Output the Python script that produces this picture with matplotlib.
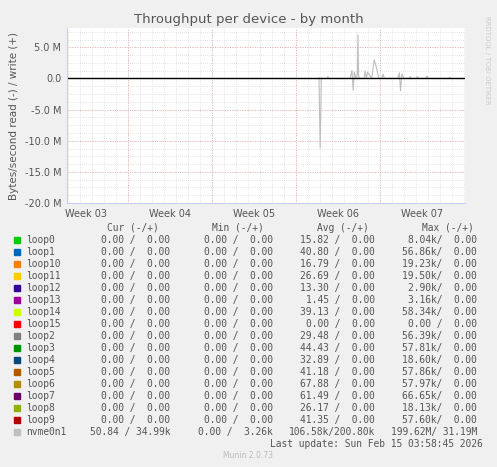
import matplotlib
matplotlib.use("Agg")
import matplotlib.pyplot as plt
import numpy as np

# time axis in days from left edge of the graph
week_lines = [5.08, 12.08, 19.08, 26.08]
week_labels = ["Week 03", "Week 04", "Week 05", "Week 06", "Week 07"]
t_end = 33.17

# nvme0n1 traffic (write +, read -), in M bytes/s
spike_t = [20.95, 21.0, 21.1, 21.2, 21.3, 21.7, 21.75, 21.8, 23.6, 23.75, 23.85, 23.95, 24.1,
           24.2, 24.25, 24.3, 24.45, 24.75, 24.85, 24.95, 25.05, 25.4, 25.6, 25.75, 26.0,
           26.25, 26.35, 26.45, 27.55, 27.7, 27.8, 27.9, 28.1, 28.5, 28.6, 28.7, 29.1, 29.2,
           29.3, 29.9, 30.0, 30.1, 31.8, 31.9, 32.0]
spike_v = [0.0, 0.1, -11.2, 0.1, 0.0, 0.0, 0.3, 0.0, 0.0, 1.3, -1.9, 1.0, 0.0,
           0.5, 7.0, 0.3, 0.0, 0.0, 1.2, 0.0, 1.0, 0.0, 3.0, 2.0, 0.0,
           0.0, 0.7, 0.0, 0.0, 0.9, -2.0, 0.7, 0.0, 0.0, 0.3, 0.0, 0.0, 0.3,
           0.0, 0.0, 0.4, 0.0, 0.0, 0.2, 0.0]

devices = ["loop0", "loop1", "loop10", "loop11", "loop12", "loop13", "loop14", "loop15",
           "loop2", "loop3", "loop4", "loop5", "loop6", "loop7", "loop8", "loop9", "nvme0n1"]
colors = ["#00cc00", "#0066b3", "#ff8000", "#ffcc00", "#330099", "#990099", "#ccff00", "#ff0000",
          "#808080", "#008f00", "#00487d", "#b35a00", "#b38f00", "#6b006b", "#8fb300", "#b30000",
          "#bebebe"]
cur = ["0.00 /  0.00"] * 16 + ["50.84 / 34.99k"]
mins = ["0.00 /  0.00"] * 16 + ["0.00 /  3.26k"]
avgs = ["15.82 /  0.00", "40.80 /  0.00", "16.79 /  0.00", "26.69 /  0.00", "13.30 /  0.00",
        "1.45 /  0.00", "39.13 /  0.00", "0.00 /  0.00", "29.48 /  0.00", "44.43 /  0.00",
        "32.89 /  0.00", "41.18 /  0.00", "67.88 /  0.00", "61.49 /  0.00", "26.17 /  0.00",
        "41.35 /  0.00", "106.58k/200.80k"]
maxs = ["8.04k/  0.00", "56.86k/  0.00", "19.23k/  0.00", "19.50k/  0.00", "2.90k/  0.00",
        "3.16k/  0.00", "58.34k/  0.00", "0.00 /  0.00", "56.39k/  0.00", "57.81k/  0.00",
        "18.60k/  0.00", "57.86k/  0.00", "57.97k/  0.00", "66.65k/  0.00", "18.13k/  0.00",
        "57.60k/  0.00", "199.62M/ 31.19M"]

W, H = 497, 467
fig = plt.figure(figsize=(W / 100, H / 100), dpi=100, facecolor="#f0f0f0")
ax = fig.add_axes([67 / W, (H - 203) / H, 398 / W, 175 / H], facecolor="white")

ax.plot(spike_t, spike_v, color="#bebebe", lw=0.8)
ax.axhline(0, color="black", lw=1)
ax.set_xlim(0, t_end)
ax.set_ylim(-20, 8.1)

for d in np.arange(0.08, t_end, 1.0):
    ax.axvline(d, color="#cccccc", lw=0.5, ls=(0, (1, 2)), zorder=0)
for y in np.arange(-20, 8.1, 1.25):
    ax.axhline(y, color="#cccccc", lw=0.5, ls=(0, (1, 2)), zorder=0)
for d in week_lines:
    ax.axvline(d, color="#e8a0a0", lw=0.6, ls=(0, (1, 2)), zorder=0)
for y in [-20, -15, -10, -5, 5]:
    ax.axhline(y, color="#e8a0a0", lw=0.6, ls=(0, (1, 2)), zorder=0)

ax.set_yticks([-20, -15, -10, -5, 0, 5])
ax.set_yticklabels(["-20.0 M", "-15.0 M", "-10.0 M", "-5.0 M", "0.0", "5.0 M"])
centers = [week_lines[0] - 3.5] + [w + 3.5 for w in week_lines]
ax.set_xticks(centers)
ax.set_xticklabels(week_labels)
ax.tick_params(length=0, labelsize=7, colors="#555555", pad=4)
for s in ["top", "right"]:
    ax.spines[s].set_visible(False)
ax.spines["left"].set_color("#ccccff")
ax.spines["bottom"].set_color("#ccccff")
ax.set_ylabel("Bytes/second read (-) / write (+)", fontsize=7.5, color="#555555")
fig.text(0.5, 1 - 20 / H, "Throughput per device - by month", ha="center", va="center",
         fontsize=9.5, color="#555555")
fig.text(1 - 10 / W, 1 - 60 / H, "RRDTOOL / TOBI OETIKER", rotation=270, ha="center",
         va="center", fontsize=5, color="#cccccc")

mono = dict(family="DejaVu Sans Mono", fontsize=6.9, color="#555555", va="center")
for x, h in [(133, "Cur (-/+)"), (238, "Min (-/+)"), (343, "Avg (-/+)"), (448, "Max (-/+)")]:
    fig.text(x / W, 1 - 228 / H, h, ha="center", **mono)
for i, dev in enumerate(devices):
    y = 1 - (240 + 12 * i) / H
    fig.patches.append(plt.Rectangle((14 / W, y - 3 / H), 6 / W, 6 / H,
                                     transform=fig.transFigure, color=colors[i]))
    fig.text(26 / W, y, dev, ha="left", **mono)
    fig.text(170 / W, y, cur[i], ha="right", **mono)
    fig.text(273 / W, y, mins[i], ha="right", **mono)
    fig.text(375 / W, y, avgs[i], ha="right", **mono)
    fig.text(477 / W, y, maxs[i], ha="right", **mono)
fig.text(483 / W, 1 - 444 / H, "Last update: Sun Feb 15 03:58:45 2026", ha="right", **mono)
fig.text(248 / W, 1 - 456 / H, "Munin 2.0.73", ha="center", fontsize=5.5, color="#bbbbbb",
         va="center")

fig.savefig("out.png", dpi=100, facecolor=fig.get_facecolor())
